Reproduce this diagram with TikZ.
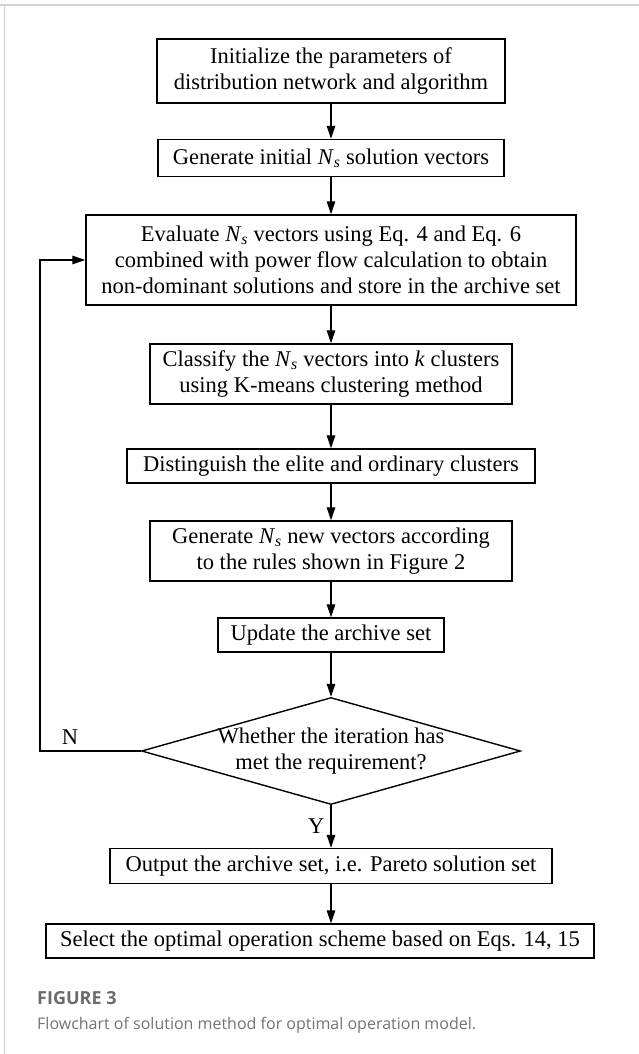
\documentclass[tikz,border=0pt]{standalone}
\usepackage{fontspec}
\setmainfont{Liberation Serif}
\newfontfamily\captionfont{Open Sans}
\usetikzlibrary{shapes.geometric,arrows.meta}

\newcommand{\Ns}{\textit{N}\textsubscript{\textit{s}}}

\begin{document}
\begin{tikzpicture}[x=1pt,y=1pt,
		flowbox/.style={draw, line width=1.4pt, align=center, inner sep=2pt, font=\fontsize{22.5}{26}\selectfont},
		decision/.style={draw, diamond, line width=1.4pt, inner sep=0pt},
		flowtext/.style={align=center, inner sep=0pt, font=\fontsize{22.5}{26}\selectfont},
		flowarrow/.style={line width=1.3pt, -{Triangle[length=13pt,width=8.5pt]}},
		frameline/.style={draw=black!18, line width=1.5pt}]
	% Marco
		\useasboundingbox (0,0) rectangle (639,-1054);
		\draw[frameline] (0,-5) -- (639,-5);
		\draw[frameline, line width=1pt] (4,-5) -- (4,-1054);

	% Cajas
		\node[flowbox, minimum width=348, minimum height=64] (init) at (331,-71) {Initialize the parameters of\\distribution network and algorithm};
		\node[flowbox, minimum width=346, minimum height=37] (gen) at (331,-158) {Generate initial \Ns{} solution vectors};
		\node[flowbox, minimum width=490, minimum height=90] (eval) at (331,-260) {Evaluate \Ns{} vectors using Eq. 4 and Eq. 6\\combined with power flow calculation to obtain\\non-dominant solutions and store in the archive set};
		\node[flowbox, minimum width=362, minimum height=60] (classify) at (331,-374) {Classify the \Ns{} vectors into \textit{k} clusters\\using K-means clustering method};
		\node[flowbox, minimum width=408, minimum height=34] (distinguish) at (331,-466) {Distinguish the elite and ordinary clusters};
		\node[flowbox, minimum width=362, minimum height=60] (newvec) at (331,-551) {Generate \Ns{} new vectors according\\to the rules shown in Figure 2};
		\node[flowbox, minimum width=226, minimum height=34] (update) at (331,-635) {Update the archive set};

	% Decision
		\node[decision, minimum width=379, minimum height=107] (check) at (331,-751) {};
		\node[flowtext] (checktext) at (331,-751) {Whether the iteration has\\met the requirement?};

	% Salida
		\node[flowbox, minimum width=442, minimum height=35] (output) at (331,-866) {Output the archive set, i.e. Pareto solution set};
		\node[flowbox, minimum width=548, minimum height=34] (select) at (320,-941) {Select the optimal operation scheme based on Eqs. 14, 15};

	% Flechas
		\draw[flowarrow] (init) -- (gen);
		\draw[flowarrow] (gen) -- (eval);
		\draw[flowarrow] (eval) -- (classify);
		\draw[flowarrow] (classify) -- (distinguish);
		\draw[flowarrow] (distinguish) -- (newvec);
		\draw[flowarrow] (newvec) -- (update);
		\draw[flowarrow] (update) -- (check);
		\draw[flowarrow] (check) -- node[flowtext, left, xshift=-6pt] (ylabel) {Y} (output);
		\draw[flowarrow] (output) -- (output.south |- select.north);

	% Retorno
		\coordinate (loopcorner) at (40,-751);
		\draw[flowarrow] (check.west) -- (loopcorner) |- (eval.west);
		\node[flowtext] (nlabel) at (70,-737) {N};

	% Pie de figura
		\node[anchor=west, inner sep=0pt, text=black!58, font=\captionfont\bfseries\fontsize{18}{20}\selectfont] (fignum) at (37,-998) {FIGURE 3};
		\node[anchor=west, inner sep=0pt, text=black!55, font=\captionfont\fontsize{16}{19}\selectfont] (figcaption) at (37,-1025) {Flowchart of solution method for optimal operation model.};
\end{tikzpicture}
\end{document}
